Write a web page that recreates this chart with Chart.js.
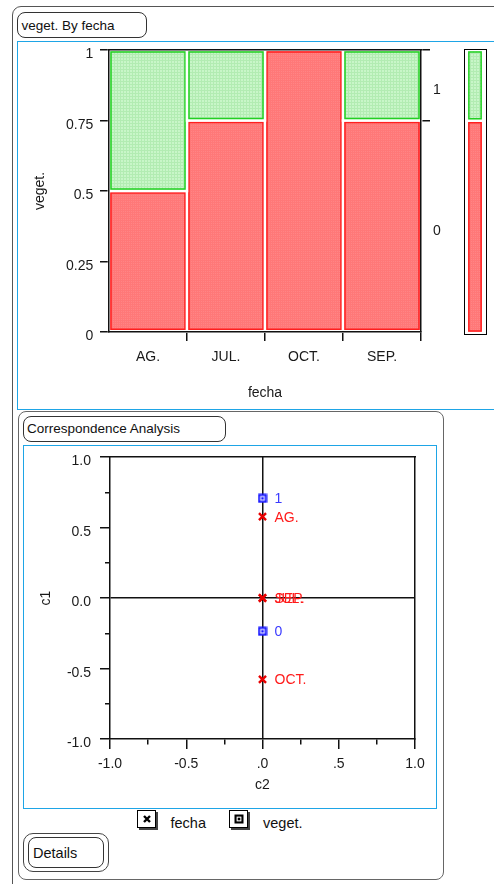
<!DOCTYPE html>
<html>
<head>
<meta charset="utf-8">
<script src="https://cdn.jsdelivr.net/npm/chart.js@4.4.1/dist/chart.umd.min.js"></script>
<style>
  html, body { margin: 0; padding: 0; background: #fff; }
  body { width: 494px; height: 884px; position: relative; overflow: hidden;
         font-family: "Liberation Sans", Arial, Helvetica, sans-serif; color: #111; }
  .abs { position: absolute; box-sizing: border-box; }
  .outer { left: 12px; top: 6px; width: 620px; height: 1000px; border: 1px solid #555; border-radius: 9px; }
  .tbox { border: 1px solid #333; border-radius: 8px; font-size: 13.5px; display: flex;
          align-items: center; padding-left: 3.5px; background: #fff; white-space: nowrap; }
  .blue { border: 1.5px solid #1ea5e6; }
  .panel { border: 1.5px solid #666; border-radius: 8px; background: #fff; }
  canvas { position: absolute; }
  .legbox { border: 1.5px solid #000; box-shadow: 2px 2px 0 #444; background: #fff;
            width: 19px; height: 18px; display: flex; align-items: center; justify-content: center; }
  .legtxt { font-size: 14.5px; line-height: 20px; height: 20px; }
  .btn-o { border: 1px solid #444; border-radius: 10px; }
  .btn-i { border: 1px solid #333; border-radius: 8px; font-size: 14.5px; display: flex;
           align-items: center; padding-left: 4px; }
</style>
</head>
<body>
<div class="abs outer"></div>

<!-- mosaic panel -->
<div class="abs tbox" style="left:17px;top:12px;width:130px;height:26px;">veget. By fecha</div>
<div class="abs blue" style="left:17px;top:41px;width:520px;height:369px;"></div>
<canvas id="mosaic" width="476" height="366" style="left:18px;top:42px;"></canvas>
<canvas id="overall" width="22" height="283" style="left:464px;top:50px;"></canvas>
<div class="abs" style="left:463.5px;top:49.3px;width:23px;height:285.5px;border:1.5px solid #000;"></div>

<!-- correspondence analysis panel -->
<div class="abs panel" style="left:18px;top:410.5px;width:425.5px;height:469px;"></div>
<div class="abs tbox" style="left:22.5px;top:415.5px;width:203.5px;height:26.5px;">Correspondence Analysis</div>
<div class="abs blue" style="left:23px;top:445px;width:414px;height:364px;"></div>
<canvas id="ca" width="412" height="361" style="left:24px;top:446px;"></canvas>

<div class="abs legbox" style="left:137px;top:810px;"><canvas id="iconFecha" width="12" height="12" style="position:static"></canvas></div>
<div class="abs legtxt" style="left:170.5px;top:812.5px;">fecha</div>
<div class="abs legbox" style="left:229px;top:810px;"><canvas id="iconVeget" width="12" height="12" style="position:static"></canvas></div>
<div class="abs legtxt" style="left:263px;top:812.5px;">veget.</div>

<div class="abs btn-o" style="left:23px;top:833px;width:86px;height:39px;"></div>
<div class="abs btn-i" style="left:28px;top:837px;width:76px;height:31px;">Details</div>

<script>
Chart.defaults.font.family = '"Liberation Sans", Arial, Helvetica, sans-serif';
Chart.defaults.font.size = 14;
Chart.defaults.color = '#1a1a1a';

// ---------- data ----------
const fechaCategories = ['AG.', 'JUL.', 'OCT.', 'SEP.'];
const vegetLevels = ['0', '1'];
// share of each veget. level within each fecha
const shareVeget0 = [0.5, 0.75, 1, 0.75];
const shareVeget1 = [0.5, 0.25, 0, 0.25];
// overall share of each veget. level
const overallVeget0 = [0.75];
const overallVeget1 = [0.25];
const shareTicks = [0, 0.25, 0.5, 0.75, 1];
const shareTickLabels = ['0', '0.25', '0.5', '0.75', '1'];

// correspondence analysis coordinates
const fechaC1 = [0.577, 0, -0.577, 0];
const fechaC2 = [0, 0, 0, 0];
const vegetC1 = [-0.236, 0.707];
const vegetC2 = [0, 0];
const caTicks = [-1, -0.75, -0.5, -0.25, 0, 0.25, 0.5, 0.75, 1];
const c1TickLabels = ['-1.0', '', '-0.5', '', '0.0', '', '0.5', '', '1.0'];
const c2TickLabels = ['-1.0', '', '-0.5', '', '.0', '', '.5', '', '1.0'];

// ---------- styling helpers ----------
const INK = '#111';
const CLEAR = 'rgba(0,0,0,0)';

function texture(base, fleck, size) {
  const c = document.createElement('canvas');
  c.width = c.height = size;
  const g = c.getContext('2d');
  g.fillStyle = base; g.fillRect(0, 0, size, size);
  g.fillStyle = fleck; g.fillRect(0, 0, 1, size); g.fillRect(0, 0, size, 1);
  return g.createPattern(c, 'repeat');
}
const redFill = texture('#ff8585', '#ff7878', 2);
const greenFill = texture('#c8f6c8', '#b2ecb2', 3);
const redEdge = '#ff1f1f';
const greenEdge = '#22d022';

// white gap + coloured inner edge around every mosaic cell
const cellOutline = {
  id: 'cellOutline',
  afterDatasetsDraw(chart) {
    const ctx = chart.ctx;
    chart.data.datasets.forEach((ds, i) => {
      const meta = chart.getDatasetMeta(i);
      meta.data.forEach(bar => {
        const p = bar.getProps(['x', 'y', 'base', 'width'], true);
        const left = p.x - p.width / 2;
        const top = Math.min(p.y, p.base);
        const h = Math.abs(p.base - p.y);
        if (h < 0.5) return;
        ctx.save();
        ctx.lineWidth = 2.5;
        ctx.strokeStyle = '#fff';
        ctx.strokeRect(left, top, p.width, h);
        ctx.lineWidth = 1.5;
        ctx.strokeStyle = ds.edgeColor;
        ctx.strokeRect(left + 2, top + 2, p.width - 4, h - 4);
        ctx.restore();
      });
    });
  }
};

// text beside each point of the correspondence plot
const pointNames = {
  id: 'pointNames',
  afterDatasetsDraw(chart) {
    const ctx = chart.ctx;
    chart.data.datasets.forEach((ds, i) => {
      const meta = chart.getDatasetMeta(i);
      meta.data.forEach((pt, j) => {
        ctx.save();
        ctx.font = '14px "Liberation Sans", Arial, sans-serif';
        ctx.fillStyle = ds.nameColor;
        ctx.textAlign = 'left';
        ctx.textBaseline = 'middle';
        ctx.fillText(ds.names[j], pt.x + 12, pt.y + 1);
        ctx.restore();
      });
    });
  }
};

function noPad(scale) {
  scale.paddingTop = 0; scale.paddingBottom = 0;
  scale.paddingLeft = 0; scale.paddingRight = 0;
}

// ---------- mosaic ----------
const bound0 = overallVeget0[0];
const bound1 = overallVeget0[0] + overallVeget1[0];
const rightTicks = [bound0 / 2, bound0, bound0 + overallVeget1[0] / 2, bound1];
const rightLabels = [vegetLevels[0], '', vegetLevels[1], ''];

new Chart(document.getElementById('mosaic'), {
  type: 'bar',
  data: {
    labels: fechaCategories,
    datasets: [
      { label: vegetLevels[0], data: shareVeget0, backgroundColor: redFill, edgeColor: redEdge, borderWidth: 0 },
      { label: vegetLevels[1], data: shareVeget1, backgroundColor: greenFill, edgeColor: greenEdge, borderWidth: 0 }
    ]
  },
  options: {
    responsive: false,
    animation: false,
    layout: { padding: { top: 8, left: 0, right: 0, bottom: 0 } },
    plugins: { legend: { display: false }, tooltip: { enabled: false } },
    datasets: { bar: { barPercentage: 1, categoryPercentage: 1 } },
    scales: {
      x: {
        stacked: true,
        position: 'bottom',
        grid: { offset: true, drawOnChartArea: false, tickLength: 9, lineWidth: 1.5,
                tickColor: c => (c.index === 0 ? CLEAR : INK) },
        border: { color: INK, width: 1.5, z: 1 },
        ticks: { padding: 7.9, autoSkip: false, maxRotation: 0 },
        title: { display: true, text: 'fecha', padding: { top: 0, bottom: 6.6 } },
        afterFit: s => { s.height = 76; noPad(s); }
      },
      y: {
        stacked: true,
        min: 0, max: 1,
        position: 'left',
        afterBuildTicks: s => { s.ticks = shareTicks.map(v => ({ value: v })); },
        ticks: { callback: (v, i) => shareTickLabels[i], padding: 6.7, labelOffset: 4.5, autoSkip: false },
        grid: { drawOnChartArea: false, tickLength: 9, lineWidth: 1.5, tickColor: INK },
        border: { color: INK, width: 1.5, z: 1 },
        title: { display: true, text: 'veget.', padding: { top: 13.6, bottom: 0 } },
        afterFit: s => { s.width = 91; noPad(s); }
      },
      yRight: {
        type: 'linear',
        min: 0, max: 1,
        position: 'right',
        afterBuildTicks: s => { s.ticks = rightTicks.map(v => ({ value: v })); },
        ticks: { callback: (v, i) => rightLabels[i], padding: 3, labelOffset: 4.5, autoSkip: false },
        grid: { drawOnChartArea: false, tickLength: 9, lineWidth: 1.5,
                tickColor: c => (c.tick && rightLabels[c.index] === '' ? INK : CLEAR) },
        border: { color: INK, width: 1.5, z: 1 },
        afterFit: s => { s.width = 73; noPad(s); }
      },
      xTop: {
        type: 'linear',
        position: 'top',
        ticks: { display: false },
        grid: { drawOnChartArea: false, drawTicks: false },
        border: { color: INK, width: 1.5, z: 1 },
        afterFit: s => { s.height = 0; noPad(s); }
      }
    }
  },
  plugins: [cellOutline]
});

// overall distribution bar beside the mosaic
new Chart(document.getElementById('overall'), {
  type: 'bar',
  data: {
    labels: ['all'],
    datasets: [
      { label: vegetLevels[0], data: overallVeget0, backgroundColor: redFill, edgeColor: redEdge, borderWidth: 0 },
      { label: vegetLevels[1], data: overallVeget1, backgroundColor: greenFill, edgeColor: greenEdge, borderWidth: 0 }
    ]
  },
  options: {
    responsive: false,
    animation: false,
    layout: { padding: 0 },
    plugins: { legend: { display: false }, tooltip: { enabled: false } },
    datasets: { bar: { barPercentage: 0.74, categoryPercentage: 1 } },
    scales: {
      x: { stacked: true, display: false },
      y: { stacked: true, display: false, min: 0, max: 1 }
    }
  },
  plugins: [cellOutline]
});

// ---------- correspondence analysis ----------
function squareDot(color, size) {
  const c = document.createElement('canvas');
  c.width = c.height = size;
  const g = c.getContext('2d');
  g.fillStyle = color; g.fillRect(0.5, 0.5, size - 1, size - 1);
  g.fillStyle = '#fff'; g.fillRect(2.6, 2.6, size - 5.2, size - 5.2);
  g.fillStyle = color; g.fillRect(size / 2 - 1.3, size / 2 - 1.3, 2.6, 2.6);
  return c;
}

const isMinor = labels => c => (c.tick && labels[c.index] === '');

new Chart(document.getElementById('ca'), {
  type: 'scatter',
  data: {
    datasets: [
      {
        label: 'fecha',
        data: fechaC2.map((x, i) => ({ x: x, y: fechaC1[i] })),
        pointStyle: 'crossRot',
        pointRadius: 5,
        pointBorderWidth: 2.4,
        pointBorderColor: '#e80000',
        pointBackgroundColor: '#e80000',
        names: fechaCategories,
        nameColor: '#ff1a1a'
      },
      {
        label: 'veget.',
        data: vegetC2.map((x, i) => ({ x: x, y: vegetC1[i] })),
        pointStyle: squareDot('#1616ff', 10),
        pointRadius: 5,
        names: vegetLevels,
        nameColor: '#3a3aff'
      }
    ]
  },
  options: {
    responsive: false,
    animation: false,
    layout: { padding: { top: 11, right: 21, left: 0, bottom: 0 } },
    plugins: { legend: { display: false }, tooltip: { enabled: false } },
    scales: {
      x: {
        type: 'linear',
        min: -1, max: 1,
        position: 'bottom',
        afterBuildTicks: s => { s.ticks = caTicks.map(v => ({ value: v })); },
        ticks: { callback: (v, i) => c2TickLabels[i], padding: 7, autoSkip: false, maxRotation: 0 },
        grid: {
          color: c => (c.tick && c.tick.value === 0 ? INK : CLEAR),
          lineWidth: 1.5,
          tickColor: INK,
          tickLength: 10,
          tickBorderDash: c => (isMinor(c2TickLabels)(c) ? [5, 50] : [])
        },
        border: { color: INK, width: 1.5 },
        title: { display: true, text: 'c2', padding: { top: 0, bottom: 13.6 } },
        afterFit: s => { s.height = 68; noPad(s); }
      },
      y: {
        type: 'linear',
        min: -1, max: 1,
        position: 'left',
        afterBuildTicks: s => { s.ticks = caTicks.map(v => ({ value: v })); },
        ticks: { callback: (v, i) => c1TickLabels[i], padding: 9, labelOffset: 4.5, autoSkip: false },
        grid: {
          color: c => (c.tick && c.tick.value === 0 ? INK : CLEAR),
          lineWidth: 1.5,
          tickColor: INK,
          tickLength: 10,
          tickBorderDash: c => (isMinor(c1TickLabels)(c) ? [0, 5, 5, 50] : [])
        },
        border: { color: INK, width: 1.5 },
        title: { display: true, text: 'c1', padding: { top: 13.6, bottom: 0 } },
        afterFit: s => { s.width = 86; noPad(s); }
      },
      xTop: {
        type: 'linear',
        position: 'top',
        ticks: { display: false },
        grid: { drawOnChartArea: false, drawTicks: false },
        border: { color: INK, width: 1.5 },
        afterFit: s => { s.height = 0; noPad(s); }
      },
      yRight: {
        type: 'linear',
        position: 'right',
        ticks: { display: false },
        grid: { drawOnChartArea: false, drawTicks: false },
        border: { color: INK, width: 1.5 },
        afterFit: s => { s.width = 0; noPad(s); }
      }
    }
  },
  plugins: [pointNames]
});

// ---------- legend icons ----------
(function () {
  const g1 = document.getElementById('iconFecha').getContext('2d');
  g1.strokeStyle = '#000'; g1.lineWidth = 2.4;
  g1.beginPath();
  g1.moveTo(3, 3); g1.lineTo(9, 9);
  g1.moveTo(9, 3); g1.lineTo(3, 9);
  g1.stroke();
  const g2 = document.getElementById('iconVeget').getContext('2d');
  g2.drawImage(squareDot('#000', 10), 1, 1);
})();
</script>
</body>
</html>
